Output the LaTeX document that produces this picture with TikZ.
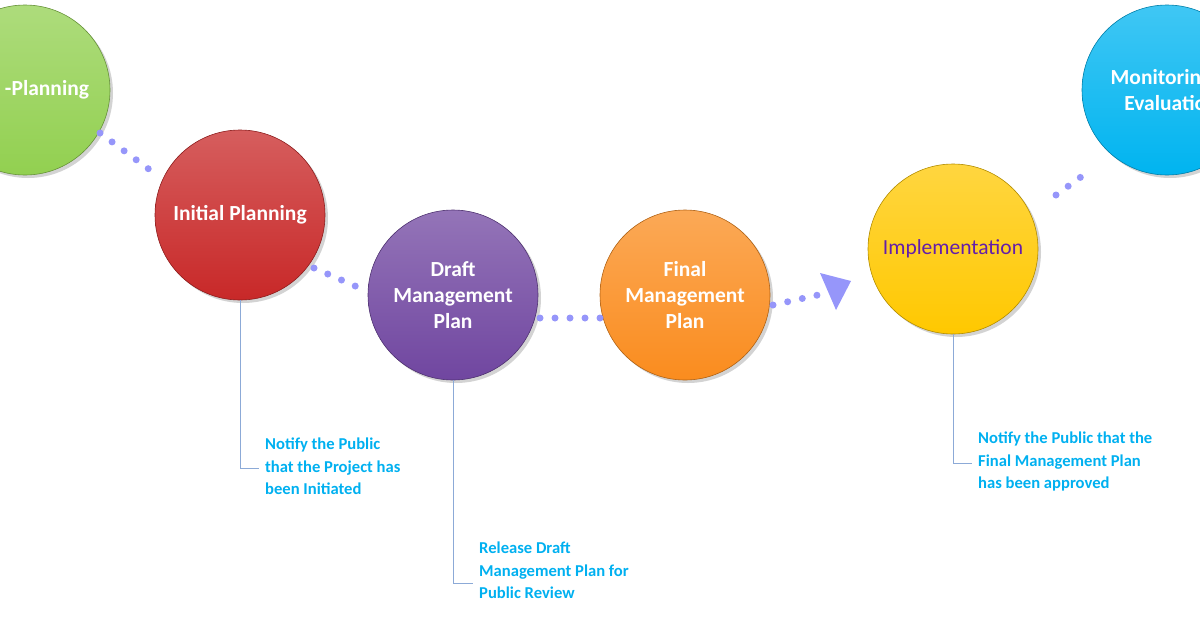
\documentclass[tikz,border=0pt]{standalone}
\usepackage{fontspec}
\setmainfont{Carlito}
\usetikzlibrary{shadows}
\definecolor{dotc}{RGB}{150,150,250}
\definecolor{callc}{RGB}{0,176,240}
\definecolor{linec}{RGB}{140,170,215}
\begin{document}
\begin{tikzpicture}[x=1pt,y=-1pt,
  ball/.style={circle,minimum size=170pt,inner sep=0pt,draw=#1!70!black,line width=0.6pt,
     top color=#1!75!white,bottom color=#1,drop shadow={shadow xshift=3pt,shadow yshift=-3pt,opacity=0.35},
     align=center,font=\bfseries\fontsize{21.5}{26}\selectfont,text=white},
  dots/.style={dotc,line width=7pt,line cap=round,dash pattern=on 0pt off 15pt},
  call/.style={anchor=north west,align=left,text=callc,font=\bfseries\fontsize{16.6}{22.5}\selectfont,inner sep=0pt},
  lead/.style={linec,line width=1pt}]
\useasboundingbox (0,0) rectangle (1200,630);
\definecolor{cg}{RGB}{146,208,80}
\definecolor{cr}{RGB}{200,40,40}
\definecolor{cp}{RGB}{112,70,160}
\definecolor{co}{RGB}{250,140,30}
\definecolor{cy}{RGB}{255,200,0}
\definecolor{cb}{RGB}{0,180,240}
\node[ball=cg] (g) at (25,90) {\hspace*{44pt}-Planning};
\node[ball=cr] (r) at (240,215) {Initial Planning};
\node[ball=cp] (p) at (453,295) {Draft\\Management\\Plan};
\node[ball=co] (o) at (685,295) {Final\\Management\\Plan};
\node[ball=cy,text={rgb,255:red,100;green,30;blue,170},font=\fontsize{21.5}{26}\selectfont] (y) at (953,249) {Implementation};
\node[ball=cb] (b) at (1167,90) {\hspace*{8pt}Monitoring \&\\\hspace*{8pt}Evaluation};
\fill[white] (1200,0) rectangle (1270,630);
\coordinate (d1a) at (100,133); \coordinate (d1b) at (150,170);
\coordinate (d2a) at (314,268); \coordinate (d2b) at (362,289);
\coordinate (d3a) at (540,318); \coordinate (d3b) at (605,318);
\coordinate (d4a) at (773,305); \coordinate (d4b) at (818,295);
\coordinate (d5a) at (1056,195); \coordinate (d5b) at (1085,174);
\draw[dots] (d1a) -- (d1b);
\draw[dots] (d2a) -- (d2b);
\draw[dots] (d3a) -- (d3b);
\draw[dots] (d4a) -- (d4b);
\draw[dots] (d5a) -- (d5b);
\coordinate (t1) at (820,273); \coordinate (t2) at (851,281); \coordinate (t3) at (836,310);
\fill[dotc] (t1) -- (t2) -- (t3) -- cycle;
\node[call] (c1) at (265,438) {Notify the Public\\that the Project has\\been Initiated};
\node[call] (c2) at (479,542) {Release Draft\\Management Plan for\\Public Review};
\node[call] (c3) at (978,432) {Notify the Public that the\\Final Management Plan\\has been approved};
\draw[lead] (r.south) |- ([xshift=-6pt]c1.west |- 0,468);
\draw[lead] (p.south) |- ([xshift=-6pt]c2.west |- 0,583);
\draw[lead] (y.south) |- ([xshift=-6pt]c3.west |- 0,463);
\end{tikzpicture}
\end{document}
